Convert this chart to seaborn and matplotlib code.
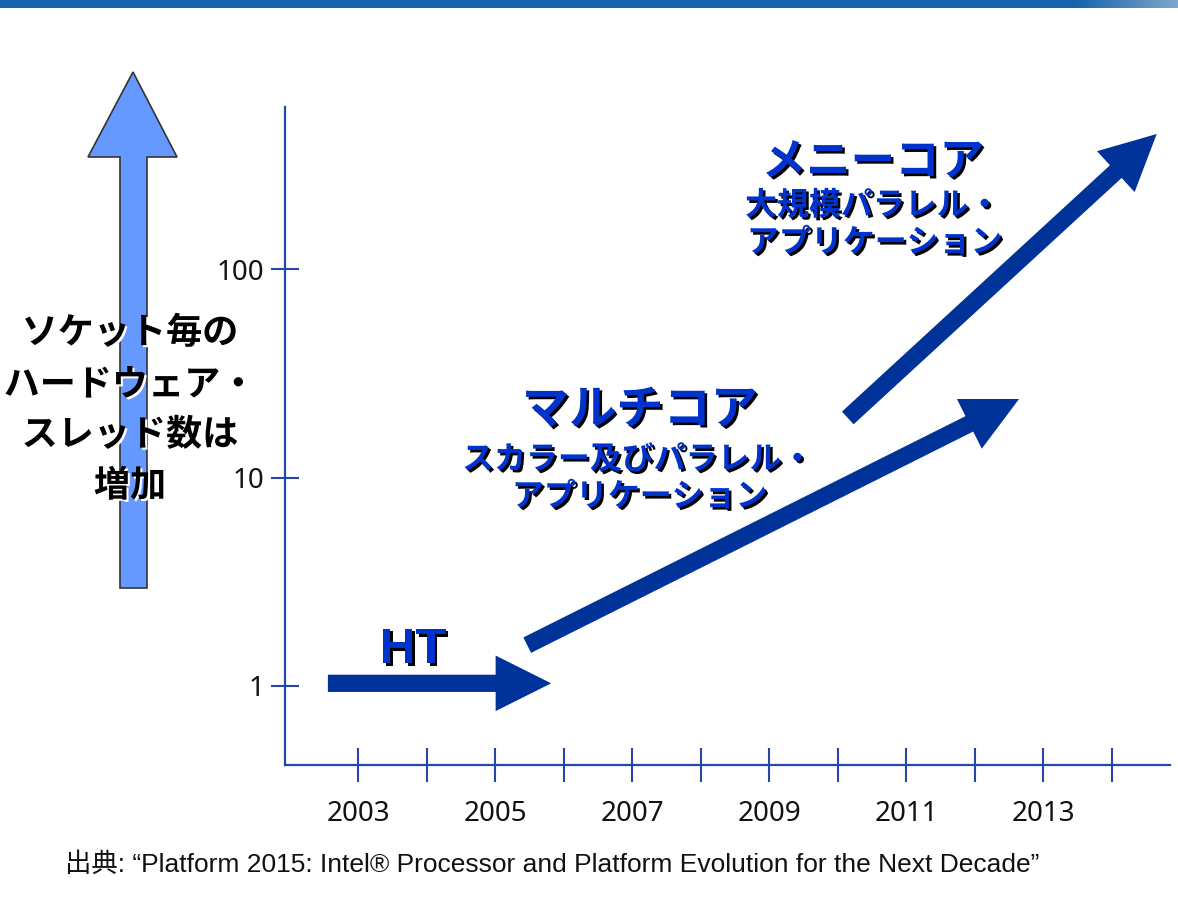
import numpy as np
import pandas as pd
import matplotlib
matplotlib.use("Agg")
import matplotlib.pyplot as plt
import matplotlib.patheffects as pe
from matplotlib.patches import Polygon
from matplotlib.ticker import NullLocator
import seaborn as sns

# ---------------- data ----------------
tick_years = [2003, 2004, 2005, 2006, 2007, 2008, 2009, 2010, 2011, 2012, 2013, 2014]
year_labels = ["2003", "", "2005", "", "2007", "", "2009", "", "2011", "", "2013", ""]
thread_ticks = [1, 10, 100]
thread_labels = ["1", "10", "100"]

# arrows: (start year, end year), (start threads, end threads)
ht_years = [2002.56, 2005.82]
ht_threads = [1.03, 1.03]
multi_years = [2005.47, 2012.65]
multi_threads = [1.57, 23.8]
many_years = [2010.15, 2014.66]
many_threads = [19.3, 444.0]

ht_label = "HT"
multi_title = "マルチコア"
multi_sub = ["スカラー及びパラレル・", "アプリケーション"]
many_title = "メニーコア"
many_sub = ["大規模パラレル・", "アプリケーション"]
yaxis_lines = ["ソケット毎の", "ハードウェア・", "スレッド数は", "増加"]
source_text = "出典: “Platform 2015: Intel® Processor and Platform Evolution for the Next Decade”"

# ---------------- style ----------------
sns.set_theme(style="white")
plt.rcParams["font.family"] = ["Noto Sans", "DejaVu Sans"]

W, H = 1178, 917
fig = plt.figure(figsize=(W / 100, H / 100), dpi=100)
fig.patch.set_facecolor("white")


def fx(x):
    return x / W


def fy(y):
    return 1 - y / H


axis_color = "#2547A6"
arrow_color = "#003399"
text_blue = "#0033CC"

ax = fig.add_axes([fx(285), fy(765), fx(1170) - fx(285), fy(107) - fy(765)])
ax.set_facecolor("white")
ax.set_yscale("log")
ax.set_xlim(2001.934, 2014.854)
ax.set_ylim(10 ** (-79 / 208.5), 10 ** ((686 - 107) / 208.5))
sns.despine(ax=ax, top=True, right=True)
for s in ["left", "bottom"]:
    ax.spines[s].set_color(axis_color)
    ax.spines[s].set_linewidth(1.6)

ax.set_xticks(tick_years)
ax.set_xticklabels(year_labels)
ax.set_yticks(thread_ticks)
ax.set_yticklabels(thread_labels)
ax.yaxis.set_minor_locator(NullLocator())
ax.xaxis.set_minor_locator(NullLocator())
ax.tick_params(axis="x", which="major", bottom=True, direction="inout", length=24, width=1.5,
               color=axis_color, labelcolor="#111111", labelsize=20, pad=13)
ax.tick_params(axis="y", which="major", left=True, direction="inout", length=20, width=1.5,
               color=axis_color, labelcolor="#111111", labelsize=20, pad=5)
ax.grid(False)

# arrows
for xs, ys in [(ht_years, ht_threads), (multi_years, multi_threads), (many_years, many_threads)]:
    ax.annotate("", xy=(xs[1], ys[1]), xytext=(xs[0], ys[0]),
                arrowprops=dict(arrowstyle="simple,head_length=2.0,head_width=2.0,tail_width=0.62",
                                mutation_scale=20, color=arrow_color, lw=0,
                                shrinkA=0, shrinkB=0))

cjk = ["Noto Sans CJK JP", "DejaVu Sans"]
blue_fx = [pe.withSimplePatchShadow(offset=(1.8, -1.8), shadow_rgbFace="black", alpha=1.0)]

# HT label
fig.text(fx(413), fy(650), ht_label, ha="center", va="center", fontsize=36,
         fontweight="bold", color=text_blue, family=["Liberation Sans", "DejaVu Sans"],
         path_effects=blue_fx)

# many-core labels
fig.text(fx(873), fy(162), many_title, ha="center", va="center", fontsize=32,
         fontweight="bold", color=text_blue, family=cjk, path_effects=blue_fx)
fig.text(fx(873), fy(206), many_sub[0], ha="center", va="center", fontsize=23,
         fontweight="bold", color=text_blue, family=cjk, path_effects=blue_fx)
fig.text(fx(875), fy(243), many_sub[1], ha="center", va="center", fontsize=23,
         fontweight="bold", color=text_blue, family=cjk, path_effects=blue_fx)

# multi-core labels
fig.text(fx(640), fy(410), multi_title, ha="center", va="center", fontsize=34,
         fontweight="bold", color=text_blue, family=cjk, path_effects=blue_fx)
fig.text(fx(638), fy(460), multi_sub[0], ha="center", va="center", fontsize=23,
         fontweight="bold", color=text_blue, family=cjk, path_effects=blue_fx)
fig.text(fx(640), fy(497), multi_sub[1], ha="center", va="center", fontsize=23,
         fontweight="bold", color=text_blue, family=cjk, path_effects=blue_fx)

# big light-blue up arrow (decoration)
arrow_px = [(120, 588), (120, 157), (88, 157), (133, 72), (177, 157), (147, 157), (147, 588)]
fig.patches.append(Polygon([(fx(x), fy(y)) for x, y in arrow_px], closed=True,
                           transform=fig.transFigure, facecolor="#6699FF",
                           edgecolor="#333333", lw=1.2, zorder=1))

# y-axis description text
white_fx = [pe.withSimplePatchShadow(offset=(1.5, -1.5), shadow_rgbFace="white", alpha=1.0)]
for line, yy in zip(yaxis_lines, [333, 385, 435, 486]):
    fig.text(fx(130), fy(yy), line, ha="center", va="center", fontsize=26,
             fontweight="bold", color="black", family=cjk, path_effects=white_fx, zorder=5)

# top bar
bar_ax = fig.add_axes([0, fy(8), 1, fy(0) - fy(8)])
bar_ax.axis("off")
n = 1178
base = np.array([0x16, 0x62, 0xAC]) / 255.0
light = np.array([0x7F, 0xA6, 0xCC]) / 255.0
grad = np.tile(base, (1, n, 1)).astype(float)
start = 1075
t = np.linspace(0, 1, n - start)
grad[0, start:, :] = base + (light - base) * t[:, None]
bar_ax.imshow(grad, aspect="auto", extent=[0, 1, 0, 1])
bar_ax.set_xlim(0, 1)
bar_ax.set_ylim(0, 1)

# source
fig.text(fx(65), fy(865), source_text, ha="left", va="center", fontsize=19,
         color="#111111", family=["Liberation Sans", "Noto Sans CJK JP"])

fig.savefig("out.png", dpi=100, facecolor="white")
